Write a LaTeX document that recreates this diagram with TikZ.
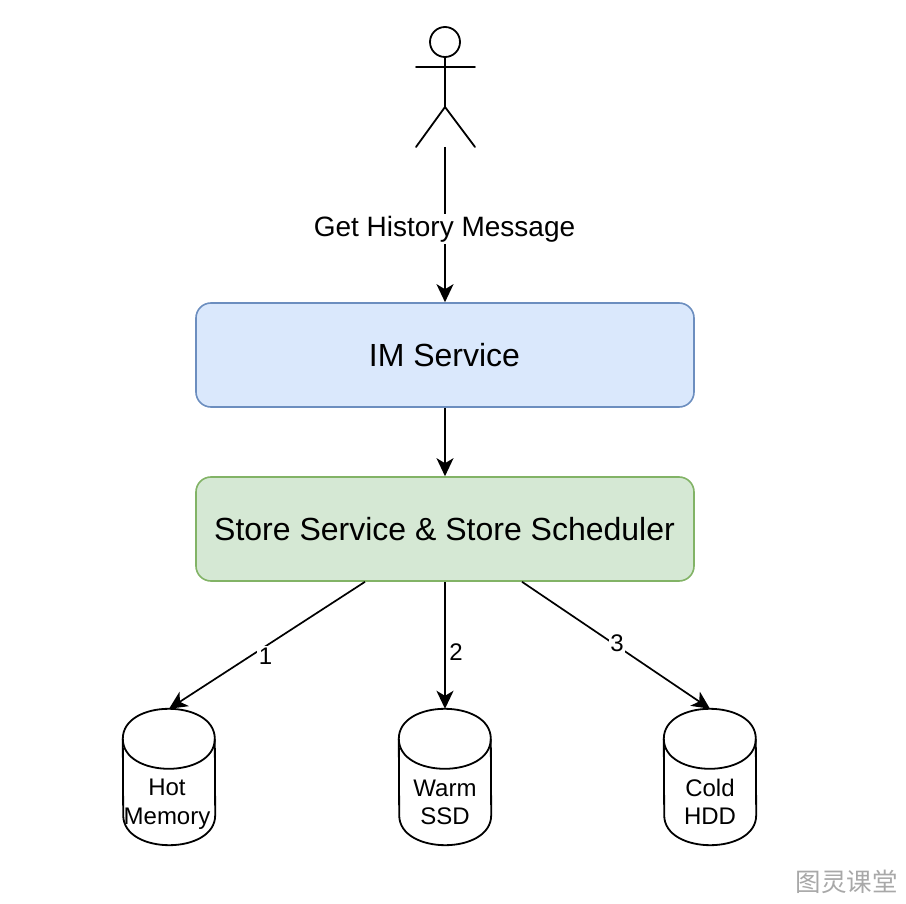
\documentclass[tikz,border=0pt]{standalone}
\usepackage{fontspec}
\setmainfont{Liberation Sans}
\newfontfamily\cjk{Noto Sans CJK SC}
\usetikzlibrary{arrows.meta}
\definecolor{bluefill}{HTML}{DAE8FC}
\definecolor{blueline}{HTML}{6C8EBF}
\definecolor{greenfill}{HTML}{D5E8D4}
\definecolor{greenline}{HTML}{82B366}
\tikzset{
  service/.style={rectangle,rounded corners=15pt,minimum width=498pt,minimum height=104pt,line width=1.6pt,inner sep=0pt},
  servicetext/.style={inner sep=0pt,font=\fontsize{32}{36}\selectfont},
  store/.style={rectangle,minimum width=92pt,minimum height=136pt,inner sep=0pt},
  storetext/.style={align=center,inner sep=0pt,font=\fontsize{24}{28.5}\selectfont},
  link/.style={line width=1.7pt,-{Stealth[length=18pt,width=17pt,inset=5pt]}},
  figure/.style={line width=1.8pt,line cap=round},
  linklabel/.style={fill=white,inner sep=1.5pt,font=\fontsize{24}{28}\selectfont},
}
\newcommand{\drawcyl}[1]{%
  \draw[line width=1.8pt] ([yshift=-30pt]#1.north west)
     .. controls +(0,-40) and +(0,-40) .. +(92,0)
     -- ([yshift=30pt]#1.south east)
     .. controls +(0,40) and +(0,40) .. +(-92,0) -- cycle;
  \draw[line width=1.8pt] ([yshift=-30pt]#1.north west)
     .. controls +(0,40) and +(0,40) .. +(92,0);
}
\begin{document}
\begin{tikzpicture}[x=1pt,y=-1pt]
\useasboundingbox (0,0) rectangle (906,904);
% actor
\node[circle,draw,line width=1.8pt,minimum size=30pt,inner sep=0pt] (head) at (445,42) {};
\coordinate (hip) at (445,107);
\coordinate (handl) at (416,67);
\coordinate (handr) at (475,67);
\coordinate (footl) at (416,147);
\coordinate (footr) at (475,147);
\draw[figure] (head.south) -- (hip);
\draw[figure] (handl) -- (handr);
\draw[figure] (footl) -- (hip) -- (footr);
\coordinate (actorbase) at (445,147);
% services
\node[service,draw=blueline,fill=bluefill] (im) at (445,355) {};
\node[servicetext] (imt) at (444.5,355) {IM Service};
\node[service,draw=greenline,fill=greenfill] (sched) at (445,529) {};
\node[servicetext] (schedt) at (444.5,529) {Store Service \& Store Scheduler};
% stores
\node[store] (hot) at (169,777) {};
\node[store] (warm) at (445,777) {};
\node[store] (cold) at (710,777) {};
\drawcyl{hot}
\drawcyl{warm}
\drawcyl{cold}
\node[storetext] (hott) at (167,804) {Hot\\Memory};
\node[storetext] (warmt) at (445,802.5) {Warm\\SSD};
\node[storetext] (coldt) at (710,802) {Cold\\HDD};
% connectors
\draw[link] (actorbase) -- (im.north);
\node[fill=white,inner sep=2pt,font=\fontsize{28}{32}\selectfont] (getl) at (444.5,229) {Get History Message};
\draw[link] (im.south) -- (sched.north);
\draw[link] ([xshift=-80pt]sched.south) -- (hot.north);
\draw[link] (sched.south) -- (warm.north);
\draw[link] ([xshift=77pt]sched.south) -- (cold.north);
\node[linklabel] (l1) at (265.5,656) {1};
\node[font=\fontsize{24}{28}\selectfont,inner sep=0pt] (l2) at (456,652) {2};
\node[linklabel] (l3) at (617,643) {3};
% watermark
\node[font=\cjk\fontsize{25.5}{30}\selectfont,text=black!34,inner sep=0pt] (mark) at (846.5,882) {图灵课堂};
\end{tikzpicture}
\end{document}
